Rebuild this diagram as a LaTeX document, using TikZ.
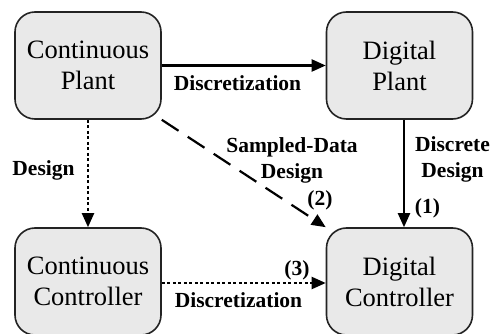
\documentclass[tikz,border=0pt]{standalone}
\usepackage{fontspec}
\setmainfont{Liberation Serif}
\usetikzlibrary{arrows.meta}
\definecolor{boxfill}{RGB}{233,233,233}
\definecolor{boxline}{RGB}{35,35,35}
\begin{document}
\begin{tikzpicture}[x=1pt,y=-1pt,
  block/.style={draw=boxline, line width=1.6pt, fill=boxfill, rounded corners=20pt,
    minimum width=146pt, minimum height=107pt, inner sep=0pt, align=center,
    font=\fontsize{26.5}{31}\selectfont},
  lbl/.style={anchor=base, align=center, inner sep=0pt,
    font=\fontsize{21.5}{26.5}\selectfont\bfseries},
  conn/.style={line width=2.2pt, -{Triangle[length=14pt,width=12pt]}},
  solidconn/.style={conn},
  dashconn/.style={conn, dash pattern=on 20pt off 11pt},
  dotconn/.style={conn, dash pattern=on 3pt off 2.5pt}]
\useasboundingbox (0,0) rectangle (491,334);

% the four blocks
\node[block] (cp) at (88,65.5)    {Continuous\\Plant};
\node[block] (dp) at (399.5,65.5) {Digital\\Plant};
\node[block] (cc) at (88,281.5)   {Continuous\\Controller};
\node[block] (dc) at (399.5,281.5){Digital\\Controller};

% connectors
\draw[solidconn] (cp.east) -- (dp.west);
\draw[dotconn] (cp.south) -- (cc.north);
\draw[dashconn] (cp.south east) -- (dc.north west);
\draw[solidconn] ([xshift=4.5pt]dp.south) -- ([xshift=4.5pt]dc.north);
\draw[dotconn] ([yshift=-1.5pt]cc.east) -- ([yshift=-1.5pt]dc.west);

% labels (base anchor sits on the last line)
\node[lbl] (l1) at (237.5,91)  {Discretization};
\node[lbl] (l2) at (238.5,308) {Discretization};
\node[lbl] (l3) at (43.5,176)  {Design};
\node[lbl] (l4) at (292,179)   {Sampled-Data\\Design};
\node[lbl] (l5) at (452.5,178) {Discrete\\Design};
\node[lbl] (n2) at (320,206)   {(2)};
\node[lbl] (n1) at (427.5,214) {(1)};
\node[lbl] (n3) at (297,276)   {(3)};
\end{tikzpicture}
\end{document}
